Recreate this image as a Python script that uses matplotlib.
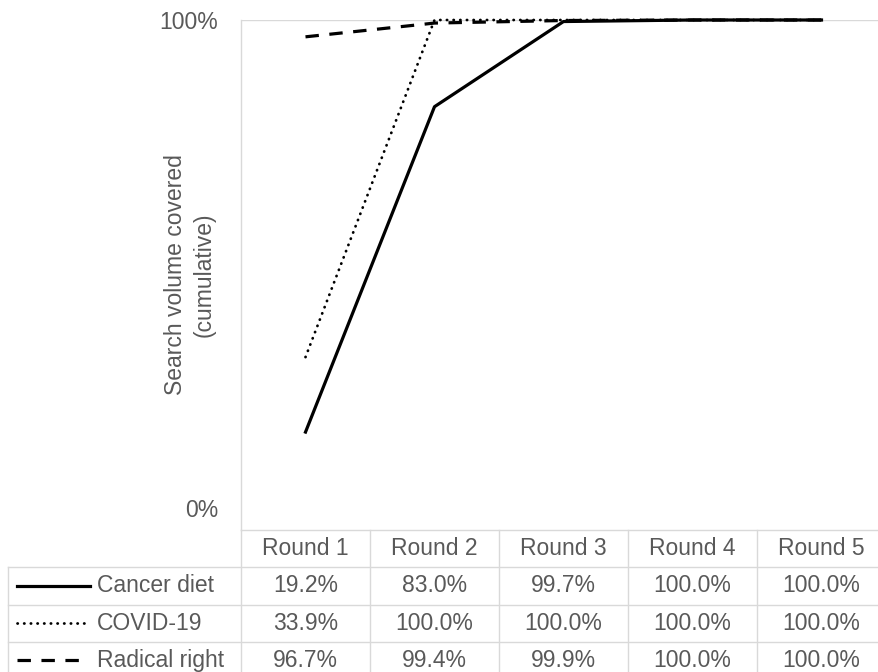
import matplotlib.pyplot as plt
import matplotlib.transforms as mtransforms
from matplotlib.lines import Line2D

plt.rcParams['font.family'] = ['Liberation Sans', 'DejaVu Sans']

# data
rounds = ["Round 1", "Round 2", "Round 3", "Round 4", "Round 5"]
series_names = ["Cancer diet", "COVID-19", "Radical right"]
cancer_diet = [19.2, 83.0, 99.7, 100.0, 100.0]
covid_19 = [33.9, 100.0, 100.0, 100.0, 100.0]
radical_right = [96.7, 99.4, 99.9, 100.0, 100.0]
series_values = [cancer_diet, covid_19, radical_right]

TXT = '#595959'
GRID = '#d9d9d9'
FS = 16.5

styles = [
    dict(linestyle='-', lw=2.3, color='black'),
    dict(linestyle=(0, (0.1, 2.3)), lw=2.0, color='black', dash_capstyle='round'),
    dict(linestyle=(0, (4.2, 3.3)), lw=2.3, color='black'),
]
key_ends = [82, 82, 72]  # legend key length in px, per series

W, H = 879, 672
fig = plt.figure(figsize=(W / 100, H / 100), dpi=100)

# plot area in pixels
left, right, top, bottom = 241, 886, 20, 530
ax = fig.add_axes([left / W, 1 - bottom / H, (right - left) / W, (bottom - top) / H])
x = list(range(1, len(rounds) + 1))
for vals, st in zip(series_values, styles):
    ax.plot(x, [v / 100 for v in vals], **st, clip_on=False, zorder=3)

ax.set_xlim(0.5, len(rounds) + 0.5)
ax.set_ylim(0, 1)
ax.set_xticks([])
ax.set_yticks([0, 1])
ax.set_yticklabels(["0%", "100%"])
ax.tick_params(axis='y', length=0, pad=16.5, labelsize=FS, labelcolor=TXT)
# Excel lifts the 0% label above the table
lbl0 = ax.get_yticklabels()[0]
lbl0.set_transform(lbl0.get_transform() + mtransforms.ScaledTranslation(0, 0.22, fig.dpi_scale_trans))
ax.axhline(1, color=GRID, lw=1.0, zorder=1)
for s in ['top', 'right', 'bottom']:
    ax.spines[s].set_visible(False)
ax.spines['left'].set_color(GRID)
ax.spines['left'].set_linewidth(1.0)

ax.set_ylabel("Search volume covered\n(cumulative)", fontsize=FS, color=TXT,
              linespacing=1.3, va='center')
ax.yaxis.set_label_coords((190 - left) / (right - left), 0.5)

# data table underneath
col_w = (right - left) / len(rounds)
tab_left = 8
row_h = 37.25
n_rows = len(series_names) + 1
tab_bottom = bottom + row_h * n_rows
xl = 0.5 - (left - tab_left) / col_w
tax = fig.add_axes([tab_left / W, 1 - tab_bottom / H, (right - tab_left) / W, (tab_bottom - bottom) / H])
tax.set_xlim(xl, len(rounds) + 0.5)
tax.set_ylim(n_rows, 0)
tax.axis('off')

lk = dict(color=GRID, lw=1.0, clip_on=False)
tax.plot([0.5, len(rounds) + 0.5], [0, 0], **lk)
for r in range(1, n_rows + 1):
    tax.plot([xl, len(rounds) + 0.5], [r, r], **lk)
tax.plot([xl, xl], [1, n_rows], **lk)
for c in range(len(rounds) + 1):
    tax.plot([c + 0.5, c + 0.5], [0, n_rows], **lk)

for i, rd in enumerate(rounds):
    tax.text(i + 1, 0.5, rd, ha='center', va='center', fontsize=FS, color=TXT)

key_x0 = xl + 9 / col_w
text_x = xl + 89 / col_w
for r, (name, vals, st, ke) in enumerate(zip(series_names, series_values, styles, key_ends), start=1):
    tax.add_line(Line2D([key_x0, xl + ke / col_w], [r + 0.5, r + 0.5], **st))
    tax.text(text_x, r + 0.5, name, ha='left', va='center', fontsize=FS, color=TXT)
    for i, v in enumerate(vals):
        tax.text(i + 1, r + 0.5, f"{v:.1f}%", ha='center', va='center', fontsize=FS, color=TXT)

fig.savefig("out.png", dpi=100)
